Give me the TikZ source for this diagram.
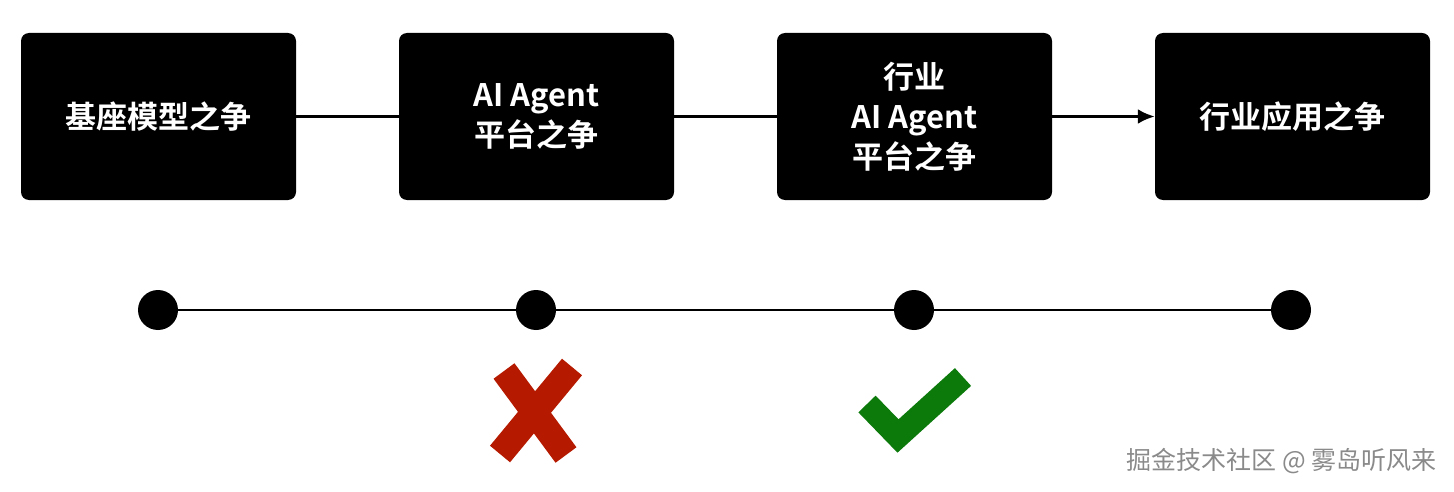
\documentclass[tikz,border=0pt]{standalone}
\usepackage{fontspec}
\usetikzlibrary{arrows.meta}
\newfontfamily\cjk{Noto Sans CJK SC}[BoldFont={* Bold}]
\definecolor{crossred}{HTML}{B51A00}
\definecolor{checkgreen}{HTML}{0B7A0B}
\definecolor{wmgray}{HTML}{8A8A8A}
\begin{document}
\begin{tikzpicture}[x=1pt,y=-1pt,
  stage/.style={fill=black,rounded corners=8pt,minimum width=275pt,minimum height=167pt,inner sep=0pt,
    text=white,font=\cjk\bfseries\fontsize{31}{40}\selectfont,align=center},
  link/.style={line width=3pt},
  dot/.style={circle,fill=black,minimum size=40pt,inner sep=0pt},
  tline/.style={line width=2pt}]
\useasboundingbox (0,0) rectangle (1454,492);
\node[stage] (b1) at (158.5,116.5) {基座模型之争};
\node[stage] (b2) at (536.5,116.5) {AI Agent\\平台之争};
\node[stage] (b3) at (914.5,116.5) {行业\\AI Agent\\平台之争};
\node[stage] (b4) at (1292.5,116.5) {行业应用之争};
\draw[link] (b1) -- (b2);
\draw[link] (b2) -- (b3);
\draw[link,-{Latex[length=17pt,width=15pt]}] (b3) -- (b4);
\node[dot] (d1) at (158,310) {};
\node[dot] (d2) at (536,310) {};
\node[dot] (d3) at (914,310) {};
\node[dot] (d4) at (1291,310) {};
\draw[tline] (d1) -- (d2);
\draw[tline] (d2) -- (d3);
\draw[tline] (d3) -- (d4);
% cross
\draw[crossred,line width=26pt] (504,371) -- (566,455);
\draw[crossred,line width=26pt] (572,367) -- (500,454);
% check
\draw[checkgreen,line width=24pt,line join=miter] (867,404) -- (898,436) -- (963,377);
\node[anchor=east,text=wmgray,font=\cjk\fontsize{25}{28}\selectfont,inner sep=0pt] (wm) at (1437,461) {掘金技术社区 @ 雾岛听风来};
\end{tikzpicture}
\end{document}
